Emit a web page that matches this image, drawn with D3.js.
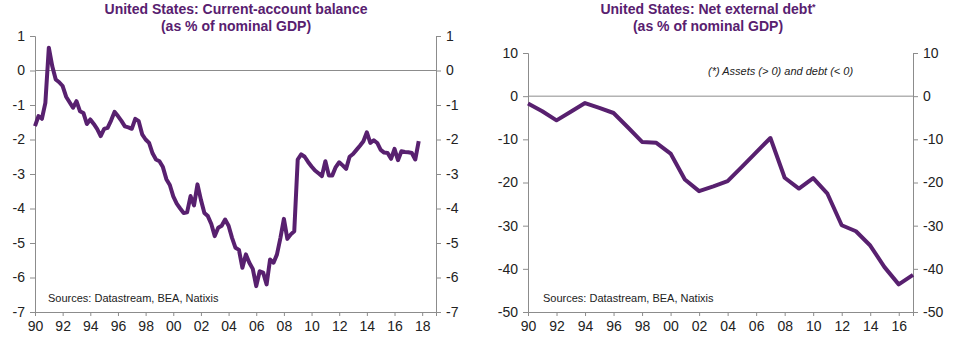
<!DOCTYPE html>
<html>
<head>
<meta charset="utf-8">
<script src="https://cdn.jsdelivr.net/npm/d3@7"></script>
<style>
  body { margin: 0; background: #fff; }
  svg { font-family: Arial, "Liberation Sans", sans-serif; }
</style>
</head>
<body>
<svg id="chart" width="971" height="343"></svg>
<script>
// current account, % of GDP, quarterly from 1990 Q1
const caStart = 1990;
const caValues = [
  -1.61, -1.32, -1.40, -0.94, 0.66, 0.12, -0.26, -0.34, -0.45, -0.76,
  -0.92, -1.08, -0.89, -1.18, -1.23, -1.55, -1.42, -1.55, -1.70, -1.90,
  -1.69, -1.66, -1.45, -1.20, -1.32, -1.46, -1.62, -1.65, -1.69, -1.40,
  -1.47, -1.85, -2.00, -2.10, -2.40, -2.58, -2.63, -2.80, -3.15, -3.32,
  -3.65, -3.86, -4.00, -4.13, -4.11, -3.64, -3.91, -3.30, -3.75, -4.13,
  -4.22, -4.45, -4.80, -4.56, -4.50, -4.32, -4.50, -4.85, -5.14, -5.20,
  -5.72, -5.33, -5.57, -5.75, -6.25, -5.82, -5.86, -6.20, -5.48, -5.57,
  -5.33, -4.85, -4.30, -4.88, -4.75, -4.66, -2.58, -2.43, -2.50, -2.65,
  -2.78, -2.90, -2.98, -3.06, -2.63, -3.04, -3.04, -2.80, -2.66, -2.75,
  -2.85, -2.50, -2.42, -2.30, -2.18, -2.05, -1.79, -2.10, -2.02, -2.10,
  -2.30, -2.38, -2.39, -2.56, -2.27, -2.60, -2.34, -2.36, -2.37, -2.39,
  -2.58, -2.05
];

// net external position, % of GDP, annual
const debtYears = [1990,1991,1992,1993,1994,1995,1996,1997,1998,1999,2000,2001,2002,2003,
  2004,2005,2006,2007,2008,2009,2010,2011,2012,2013,2014,2015,2016,2017];
const debtValues = [-1.7, -3.5, -5.6, -3.6, -1.6, -2.7, -3.9, -7.2, -10.6, -10.8, -13.3, -19.3,
  -22.0, -20.9, -19.7, -16.4, -13.0, -9.7, -18.9, -21.4, -19.0, -22.6, -29.9, -31.3,
  -34.6, -39.6, -43.6, -41.4];

const caTicks = [1, 0, -1, -2, -3, -4, -5, -6, -7];
const debtTicks = [10, 0, -10, -20, -30, -40, -50];
const caYearTicks = d3.range(1990, 2019, 2);
const debtYearTicks = d3.range(1990, 2017, 2);

const purple = '#58206f';
const axisGrey = '#8c8c8c';
const svg = d3.select('#chart');

function yearLabel(y){ return String(y % 100).padStart(2, '0'); }
function numLabel(v){ return String(v); } // plain hyphen minus like the original

function drawPanel(opts){
  const g = svg.append('g');
  const x = d3.scaleLinear().domain(opts.xDomain).range([opts.left, opts.right]);
  const y = d3.scaleLinear().domain(opts.yDomain).range([opts.bottom, opts.top]);

  // titles
  g.append('text')
    .attr('x', opts.titleX).attr('y', 14)
    .attr('text-anchor', 'middle')
    .attr('font-size', 14).attr('font-weight', 'bold').attr('fill', purple)
    .text(opts.title)
    .call(t => { if (opts.star) t.append('tspan').attr('dy', -4).attr('font-size', 9).text('*'); });
  g.append('text')
    .attr('x', opts.titleX).attr('y', 31)
    .attr('text-anchor', 'middle')
    .attr('font-size', 14).attr('font-weight', 'bold').attr('fill', purple)
    .text('(as % of nominal GDP)');

  // zero line
  g.append('line')
    .attr('x1', opts.left).attr('x2', opts.right)
    .attr('y1', y(0)).attr('y2', y(0))
    .attr('stroke', axisGrey).attr('stroke-width', 1);

  const leftAxis = d3.axisLeft(y).tickValues(opts.yTicks).tickSize(5).tickPadding(5).tickFormat(numLabel);
  const rightAxis = d3.axisRight(y).tickValues(opts.yTicks).tickSize(5).tickPadding(5).tickFormat(numLabel);
  const bottomAxis = d3.axisBottom(x).tickValues(opts.xTicks).tickSize(4).tickPadding(5).tickFormat(yearLabel);

  g.append('g').attr('transform', `translate(${opts.left},0)`).call(leftAxis);
  g.append('g').attr('transform', `translate(${opts.right},0)`).call(rightAxis);
  g.append('g').attr('transform', `translate(0,${opts.bottom})`).call(bottomAxis);

  g.selectAll('.domain').attr('stroke', axisGrey);
  g.selectAll('.tick line').attr('stroke', axisGrey);
  g.selectAll('.tick text').attr('font-size', 14).attr('fill', '#222').attr('font-family', 'Arial, "Liberation Sans", sans-serif');

  // sources
  g.append('text')
    .attr('x', opts.sourceX).attr('y', 302)
    .attr('font-size', 11).attr('fill', '#222')
    .text('Sources: Datastream, BEA, Natixis');

  // series
  const line = d3.line().x(d => x(d[0])).y(d => y(d[1])).curve(d3.curveLinear);
  g.append('path')
    .datum(opts.points)
    .attr('fill', 'none')
    .attr('stroke', purple)
    .attr('stroke-width', 4)
    .attr('stroke-linejoin', 'round')
    .attr('d', line);
  return g;
}

drawPanel({
  left: 35, right: 436, top: 36, bottom: 312,
  xDomain: [1990, 2019], yDomain: [-7, 1],
  yTicks: caTicks, xTicks: caYearTicks,
  title: 'United States: Current-account balance', titleX: 236,
  sourceX: 48,
  points: caValues.map((v, i) => [caStart + i / 4, v])
});

const right = drawPanel({
  left: 528, right: 913, top: 53, bottom: 312,
  xDomain: [1990, 2017], yDomain: [-50, 10],
  yTicks: debtTicks, xTicks: debtYearTicks,
  title: 'United States: Net external debt', star: true, titleX: 708,
  sourceX: 543,
  points: debtYears.map((yr, i) => [yr, debtValues[i]])
});

right.append('text')
  .attr('x', 708).attr('y', 75)
  .attr('font-size', 11).attr('font-style', 'italic').attr('fill', '#222')
  .text('(*) Assets (> 0) and debt (< 0)');
</script>
</body>
</html>
